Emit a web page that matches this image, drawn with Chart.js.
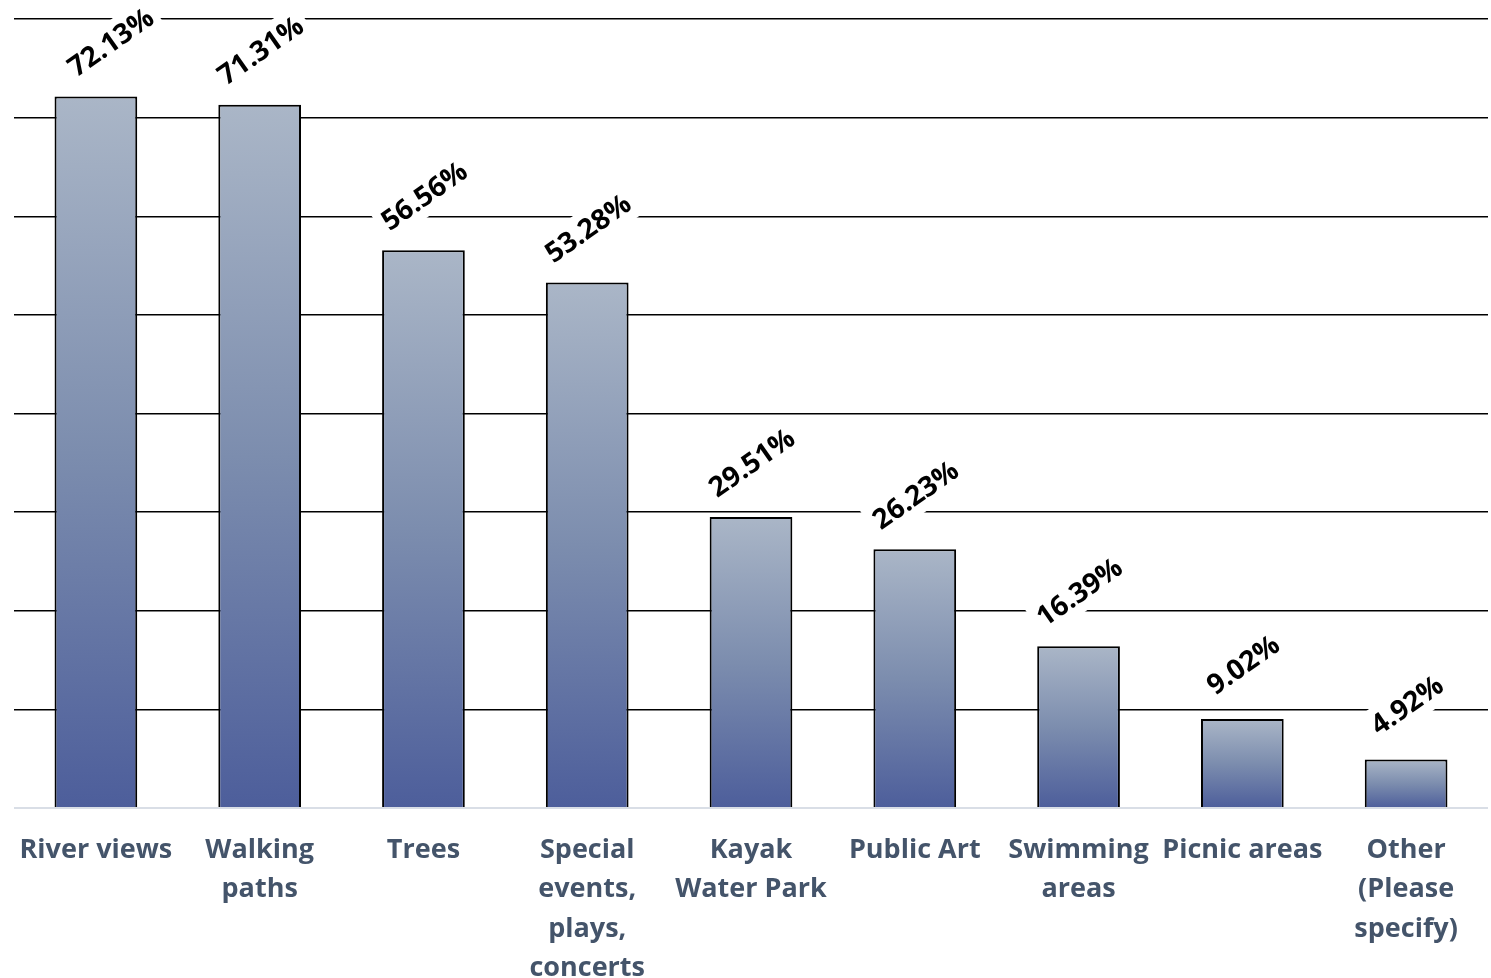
<!DOCTYPE html>
<html><head><meta charset="utf-8">
<script src="https://cdn.jsdelivr.net/npm/chart.js@4.4.0/dist/chart.umd.min.js"></script>
<style>html,body{margin:0;padding:0;background:#fff;}#wrap{width:1491px;height:978px;}</style>
</head><body><div id="wrap"><canvas id="c"></canvas></div>
<script>
const categories = [["River views"],["Walking","paths"],["Trees"],["Special","events,","plays,","concerts"],["Kayak","Water Park"],["Public Art"],["Swimming","areas"],["Picnic areas"],["Other","(Please","specify)"]];
const values = [72.13, 71.31, 56.56, 53.28, 29.51, 26.23, 16.39, 9.02, 4.92];
const valueLabels = ["72.13%","71.31%","56.56%","53.28%","29.51%","26.23%","16.39%","9.02%","4.92%"];
const yMax = 80;
const yStep = 10;

const labelPlugin = {
  id:'vlabels',
  afterDatasetsDraw(chart){
    const ctx = chart.ctx;
    const meta = chart.getDatasetMeta(0);
    ctx.save();
    ctx.font = 'bold 28px "Open Sans"';
    ctx.textAlign='center'; ctx.textBaseline='middle';
    meta.data.forEach((bar,i)=>{
      const t = valueLabels[i];
      const cx = bar.x + (i===0 ? 15 : 1), cy = bar.y - 54;
      ctx.save();
      ctx.translate(cx, cy);
      ctx.rotate(-35*Math.PI/180);
      const w = ctx.measureText(t).width;
      ctx.fillStyle='#fff';
      ctx.fillRect(-w/2-6, -19, w+12, 38);
      ctx.fillStyle='#000';
      ctx.fillText(t, 0, 1);
      ctx.restore();
    });
    ctx.restore();
  }
};

new Chart(document.getElementById('c'), {
  type:'bar',
  data:{labels:categories, datasets:[{
    data:values,
    backgroundColor:(c)=>{
      const chart=c.chart;
      const ys = chart.scales && chart.scales.y;
      if(!ys || c.raw===undefined) return '#7A88AE';
      const y = ys.getPixelForValue(c.raw), base = ys.getPixelForValue(0);
      if(!isFinite(y)||!isFinite(base)||y===base) return '#7A88AE';
      const g = chart.ctx.createLinearGradient(0,y,0,base);
      g.addColorStop(0,'#AAB6C7');
      g.addColorStop(0.5,'#7C8DAE');
      g.addColorStop(1,'#4D5E9B');
      return g;
    },
    borderColor:'#000', borderWidth:2, borderSkipped:'bottom',
    barPercentage:0.505, categoryPercentage:1.0
  }]},
  options:{
    responsive:true, maintainAspectRatio:false, animation:false,
    layout:{padding:{left:14,right:3,top:19,bottom:0}},
    plugins:{legend:{display:false},tooltip:{enabled:false}},
    scales:{
      x:{
        grid:{display:false, drawTicks:false},
        border:{display:false},
        ticks:{color:'#44546A', font:{family:'"Open Sans"', weight:'bold', size:27, lineHeight:1.45}, padding:23, maxRotation:0, autoSkip:false},
        afterFit:(s)=>{s.height=170; s.paddingLeft=0; s.paddingRight=0;}
      },
      y:{
        min:0, max:yMax,
        ticks:{display:false, stepSize:yStep},
        grid:{drawTicks:false, color:(c)=>c.tick && c.tick.value===0 ? '#D9DEE6' : '#000', lineWidth:(c)=>c.tick && c.tick.value===0 ? 2 : 1.5},
        border:{display:false}
      }
    }
  },
  plugins:[labelPlugin]
});
</script></body></html>
